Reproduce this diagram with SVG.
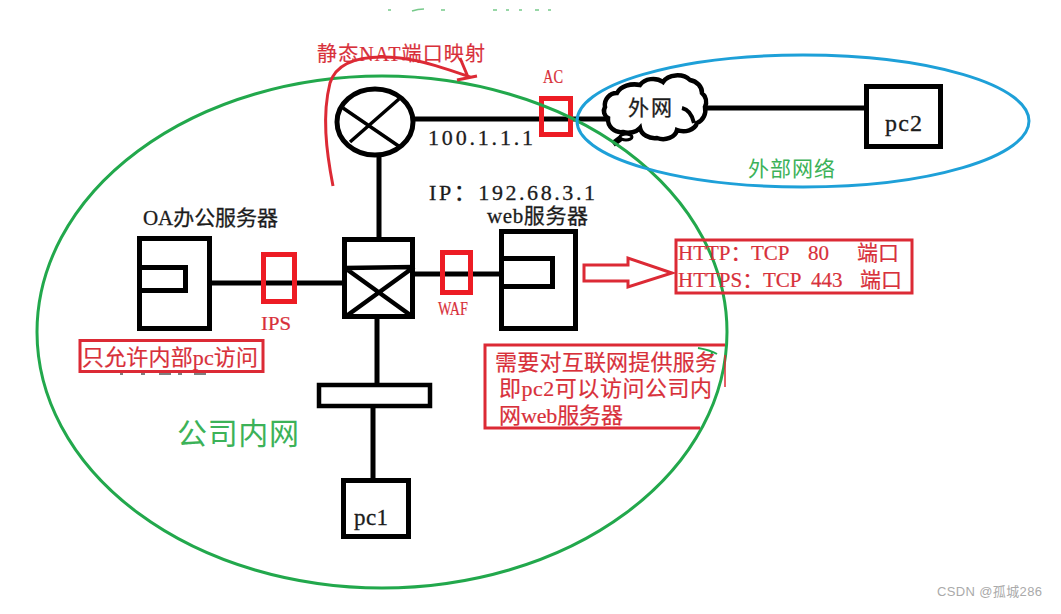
<svg xmlns="http://www.w3.org/2000/svg" width="1061" height="614" viewBox="0 0 1061 614">
<style>
text{font-family:"Liberation Serif","Noto Sans CJK SC",serif}
.k{fill:none;stroke:#000;stroke-width:5}
.r{fill:none;stroke:#ed1c24;stroke-width:5}
.r3{fill:none;stroke:#dc2a35;stroke-width:3}
.t{fill:#1c1c1c;stroke:#1c1c1c;stroke-width:.3}
.rt{fill:#d8303a;stroke:#d8303a;stroke-width:.2}
.gt{fill:#3cb258}
.wire{fill:none;stroke:#000;stroke-width:5}
</style>
<rect width="1061" height="614" fill="#fff"/>
<g id="connectors">
<path class="wire" d="M415 119H607M705 108H866M379 157V238M212 283H342M415 274H500M377 319V385M373 408V480"/>
</g>
<g id="router"><ellipse cx="375" cy="122" rx="38" ry="33" fill="#fff" class="k"/><path d="M343 108L400 147M350 142L399 99" fill="none" stroke="#000" stroke-width="3.500"/>
<text class="t" x="428" y="145" font-size="22" textLength="105">100.1.1.1</text></g>
<g id="ac"><rect class="r" x="541.500" y="98.500" width="29" height="36"/><text class="rt" x="543" y="83" font-size="18" textLength="20" lengthAdjust="spacingAndGlyphs">AC</text></g>
<g id="cloud"><path d="M605 107A12 12 0 0 1 617 93A19 14 0 0 1 640 85A15 12 0 0 1 663 82A16 12 0 0 1 690 80A15 13 0 0 1 702 93A12 12 0 0 1 705 107A14 14 0 0 1 697 123A14 11 0 0 1 677 130A14 11 0 0 1 657 138A15 12 0 0 1 640 128A14 10 0 0 1 623 132A13 13 0 0 1 608 118A8 8 0 0 1 605 107Z" fill="#fff" stroke="#000" stroke-width="4.500"/>
<path d="M682 108Q691 110 694 123" fill="none" stroke="#000" stroke-width="4"/>
<path d="M621 138L613 144" fill="none" stroke="#000" stroke-width="6"/><ellipse cx="626" cy="137" rx="6" ry="3" fill="#fff" stroke="#000" stroke-width="3"/>
<text class="t" x="628" y="115" font-size="21" textLength="44">外网</text></g>
<g id="zone-internal"><ellipse cx="382" cy="332" rx="345" ry="256" fill="none" stroke="#22a84c" stroke-width="3"/><path d="M698 348Q710 350 717 354M712 352L711 358" fill="none" stroke="#22a84c" stroke-width="2"/>
<text class="gt" x="177" y="444" font-size="30" textLength="122">公司内网</text></g>
<g id="zone-external"><ellipse cx="803" cy="121" rx="226" ry="66" fill="none" stroke="#1ea0d8" stroke-width="3"/>
<text class="gt" x="748" y="176" font-size="21" textLength="87">外部网络</text></g>
<g id="nat-label"><text class="rt" x="317" y="61" font-size="20" textLength="168">静态NAT端口映射</text>
<path d="M333 186C326 150 322 115 330 83C338 58 370 55 400 58C425 61 450 70 470 77M460 58L468 77M457 80L477 76" fill="none" stroke="#dc2a35" stroke-width="3"/></g>
<g id="pc2"><rect class="k" x="866.500" y="86.500" width="74" height="60"/><text class="t" x="885" y="131" font-size="24" textLength="37">pc2</text></g>
<g id="ip-label"><text class="t" x="429" y="200" font-size="22" textLength="166">IP：192.68.3.1</text></g>
<g id="oa-server"><text class="t" x="143" y="225" font-size="21" textLength="135">OA办公服务器</text>
<rect class="k" x="139.500" y="238.500" width="70" height="90"/><rect class="k" x="139.500" y="267.500" width="46" height="23"/></g>
<g id="ips"><rect class="r" x="263.500" y="254.500" width="31" height="47"/><text class="rt" x="261" y="330" font-size="18" textLength="30" lengthAdjust="spacingAndGlyphs">IPS</text></g>
<g id="oa-note"><rect class="r3" x="80" y="340.500" width="183" height="31"/><text class="rt" x="82" y="365" font-size="22" textLength="176">只允许内部pc访问</text><path d="M120 374h3M141 374h4M159 374h12M178 374h4M194 374h12" stroke="#555" stroke-width="1.500"/></g>
<g id="switch"><rect class="k" x="344.500" y="239.500" width="68" height="77" fill="#fff"/><path d="M344 268L414 267M345 268L413 317M345 317L414 267" fill="none" stroke="#000" stroke-width="4.500"/></g>
<g id="waf"><rect class="r" x="442.500" y="252.500" width="28" height="40"/><text class="rt" x="438" y="315" font-size="18" textLength="30" lengthAdjust="spacingAndGlyphs">WAF</text></g>
<g id="web-server"><text class="t" x="487" y="223" font-size="21" textLength="101">web服务器</text>
<rect class="k" x="501.500" y="231.500" width="74" height="97"/><rect class="k" x="501.500" y="258.500" width="51" height="28"/></g>
<g id="http-arrow"><path d="M584 265H628V258L672 273L628 287V281H584Z" class="r3"/></g>
<g id="http-note"><rect class="r3" x="676" y="240" width="236" height="53"/>
<text class="rt" y="260" font-size="21"><tspan x="678">HTTP：</tspan><tspan x="751">TCP</tspan><tspan x="808">80</tspan><tspan x="857">端口</tspan></text>
<text class="rt" y="287" font-size="21"><tspan x="678">HTTPS：</tspan><tspan x="763">TCP</tspan><tspan x="811">443</tspan><tspan x="860">端口</tspan></text></g>
<g id="service-note"><path class="r3" d="M725 345H485V428H700"/><path d="M725 355V387" stroke="#dc2a35" stroke-width="1.500" fill="none"/>
<text class="rt" x="495" y="370" font-size="22" textLength="222">需要对互联网提供服务</text>
<text class="rt" x="499" y="396" font-size="22" textLength="213">即pc2可以访问公司内</text>
<text class="rt" x="499" y="423" font-size="22" textLength="124">网web服务器</text></g>
<g id="hub"><rect x="319" y="385" width="111" height="21" fill="#fff" stroke="#000" stroke-width="4.500"/></g>
<g id="pc1"><rect class="k" x="343.500" y="480.500" width="65" height="56"/><text class="t" x="354" y="525" font-size="23" textLength="34">pc1</text></g>
<g id="top-fragments"><path d="M388 10h3M412 11q6-2 12-2M441 10h4M493 10h4M506 10h3M519 10h3M535 10h4M548 10h3" stroke="#3cb258" stroke-width="1.500" fill="none" opacity=".7"/></g>
<g id="watermark"><text x="937" y="596" font-size="13" style="font-family:'Liberation Sans','Noto Sans CJK SC',sans-serif" fill="#aaa" textLength="105">CSDN @孤城286</text></g>
</svg>
